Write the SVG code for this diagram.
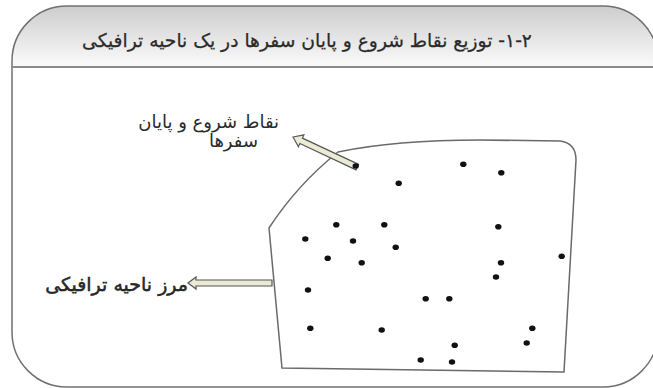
<svg xmlns="http://www.w3.org/2000/svg" width="653" height="388" viewBox="0 0 653 388">
<defs>
<linearGradient id="hg" x1="0" y1="0" x2="0" y2="1">
<stop offset="0" stop-color="#cdcdcd"/>
<stop offset="1" stop-color="#fbfbfb"/>
</linearGradient>
<style>
.frame{fill:none;stroke:#707070;stroke-width:1.5}
.zone{fill:#fff;stroke:#6a6a6a;stroke-width:1.5}
.dot{fill:#111}
.arr{fill:#ebebd5;stroke:#555;stroke-width:1.2}
.t{font-family:"DejaVu Sans","Noto Sans",sans-serif;fill:#2a2a2a;direction:rtl}
</style>
</defs>
<rect x="0" y="0" width="653" height="388" fill="#fff"/>
<g id="frame">
<path d="M12 67 L12 61 A55 55 0 0 1 67 6 L603 6 A55 55 0 0 1 658 61 L658 67 Z" fill="url(#hg)"/>
<rect class="frame" x="12" y="6" width="646" height="381" rx="55" ry="55"/>
<line x1="12" y1="67" x2="658" y2="67" stroke="#8a8a8a" stroke-width="2"/>
<text class="t" x="307" y="47" font-size="18.7" text-anchor="middle" stroke="#2a2a2a" stroke-width="0.25">۱-۲- توزیع نقاط شروع و پایان سفرها در یک ناحیه ترافیکی</text>
</g>
<g id="zone">
<path class="zone" d="M338 152 Q395 140 480 140 L560 141 Q576 143 576 160 L564 372 L282 368 L269 228 Q297 185 338 152 Z"/>
</g>
<g id="connectors">
<polygon class="arr" transform="translate(293,137) rotate(25.1)" points="0,0 9,-6.5 9,-3 71,-3 71,3 9,3 9,6.5"/>
<polygon class="arr" transform="translate(188,283)" points="0,0 8,-6 8,-3 84,-3 84,3 8,3 8,6"/>
</g>
<g id="dots">
<ellipse class="dot" cx="355.7" cy="166" rx="3.2" ry="2.8"/>
<ellipse class="dot" cx="463.3" cy="164.3" rx="3.2" ry="2.8"/>
<ellipse class="dot" cx="501.3" cy="172.7" rx="3.2" ry="2.8"/>
<ellipse class="dot" cx="398.7" cy="183.3" rx="3.2" ry="2.8"/>
<ellipse class="dot" cx="336.3" cy="224.7" rx="3.2" ry="2.8"/>
<ellipse class="dot" cx="384.3" cy="224.7" rx="3.2" ry="2.8"/>
<ellipse class="dot" cx="498.3" cy="226.7" rx="3.2" ry="2.8"/>
<ellipse class="dot" cx="305.3" cy="239" rx="3.2" ry="2.8"/>
<ellipse class="dot" cx="353" cy="241" rx="3.2" ry="2.8"/>
<ellipse class="dot" cx="395.7" cy="247.3" rx="3.2" ry="2.8"/>
<ellipse class="dot" cx="561.7" cy="256.3" rx="3.2" ry="2.8"/>
<ellipse class="dot" cx="327.7" cy="258.3" rx="3.2" ry="2.8"/>
<ellipse class="dot" cx="361.7" cy="262.7" rx="3.2" ry="2.8"/>
<ellipse class="dot" cx="501" cy="262.7" rx="3.2" ry="2.8"/>
<ellipse class="dot" cx="496" cy="277" rx="3.2" ry="2.8"/>
<ellipse class="dot" cx="308" cy="290" rx="3.2" ry="2.8"/>
<ellipse class="dot" cx="425.7" cy="298.7" rx="3.2" ry="2.8"/>
<ellipse class="dot" cx="449.3" cy="298.7" rx="3.2" ry="2.8"/>
<ellipse class="dot" cx="310.3" cy="328.3" rx="3.2" ry="2.8"/>
<ellipse class="dot" cx="381.7" cy="330" rx="3.2" ry="2.8"/>
<ellipse class="dot" cx="532.3" cy="328.3" rx="3.2" ry="2.8"/>
<ellipse class="dot" cx="526.7" cy="343" rx="3.2" ry="2.8"/>
<ellipse class="dot" cx="454.7" cy="345.3" rx="3.2" ry="2.8"/>
<ellipse class="dot" cx="420.7" cy="360" rx="3.2" ry="2.8"/>
<ellipse class="dot" cx="452" cy="362" rx="3.2" ry="2.8"/>
</g>
<g id="label-points">
<text class="t" x="279" y="128" font-size="18" text-anchor="start">نقاط شروع و پایان</text>
<text class="t" x="258" y="147" font-size="18" text-anchor="start">سفرها</text>
</g>
<g id="label-boundary">
<text class="t" x="188" y="291" font-size="19" text-anchor="start" stroke="#1e1e1e" stroke-width="0.5" fill="#1e1e1e">مرز ناحیه ترافیکی</text>
</g>
</svg>
